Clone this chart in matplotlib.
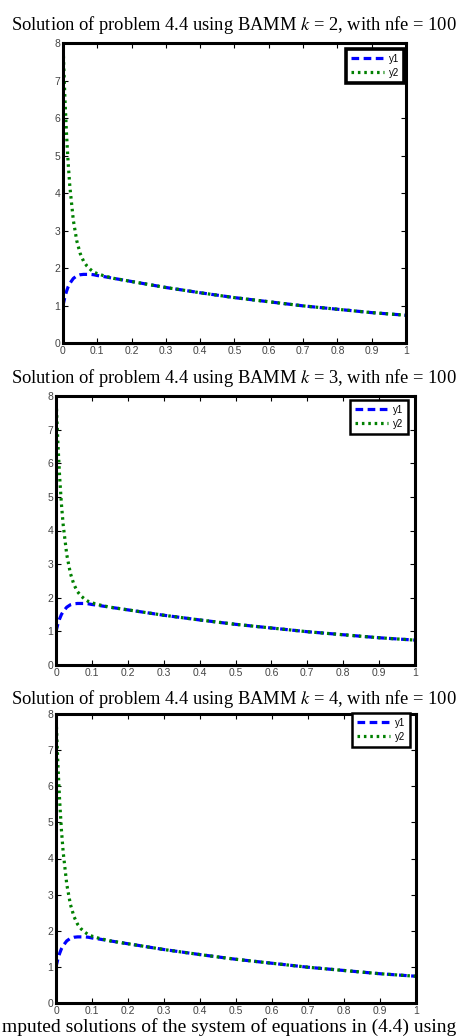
import matplotlib
matplotlib.use("Agg")
import matplotlib.pyplot as plt

# -----------------------------
# Data
# -----------------------------
x = [0.0, 0.005, 0.01, 0.015, 0.02, 0.03, 0.04, 0.05, 0.06, 0.07, 0.08, 0.09,
     0.1, 0.12, 0.15, 0.2, 0.25, 0.3, 0.4, 0.5, 0.6, 0.7, 0.8, 0.9, 1.0]
y1 = [1.0, 1.21, 1.37, 1.50, 1.59, 1.72, 1.79, 1.82, 1.83, 1.83, 1.83, 1.82,
      1.80, 1.77, 1.72, 1.64, 1.56, 1.48, 1.34, 1.21, 1.10, 0.99, 0.90, 0.81, 0.74]
y2 = [8.0, 6.66, 5.62, 4.80, 4.17, 3.28, 2.73, 2.39, 2.18, 2.05, 1.96, 1.89,
      1.85, 1.79, 1.72, 1.64, 1.56, 1.48, 1.34, 1.21, 1.10, 0.99, 0.90, 0.81, 0.74]

k_values = [2, 3, 4]
nfe = 100
x_ticks = [0, 0.1, 0.2, 0.3, 0.4, 0.5, 0.6, 0.7, 0.8, 0.9, 1]
x_tick_labels = ["0", "0.1", "0.2", "0.3", "0.4", "0.5", "0.6", "0.7", "0.8", "0.9", "1"]
y_ticks = [0, 1, 2, 3, 4, 5, 6, 7, 8]
caption = "mputed solutions of the system of equations in (4.4) using"

# -----------------------------
# Layout (pixels: left, right, top, bottom) and legend boxes
# -----------------------------
W, H = 468, 1036
panels = [
    dict(box=(63, 406, 43, 343), title_y=25, leg=(404, 49), leg_lw=2.6),
    dict(box=(56, 415, 396, 665), title_y=378, leg=(408, 400), leg_lw=1.8),
    dict(box=(56, 416, 714, 1003), title_y=699, leg=(410, 713), leg_lw=1.8),
]

plt.rcParams["mathtext.fontset"] = "stix"

fig = plt.figure(figsize=(W / 100, H / 100), dpi=100)

for k, p in zip(k_values, panels):
    l, r, t, b = p["box"]
    ax = fig.add_axes([l / W, 1 - b / H, (r - l) / W, (b - t) / H])
    ax.plot(x, y1, color="#0000ff", ls=(0, (2.4, 1.4)), lw=2.3, label="y1")
    ax.plot(x, y2, color="#008000", ls=(0, (0.8, 1.2)), lw=2.3, label="y2")
    ax.set_xlim(0, 1)
    ax.set_ylim(0, 8)
    ax.set_xticks(x_ticks)
    ax.set_xticklabels(x_tick_labels)
    ax.set_yticks(y_ticks)
    ax.tick_params(direction="in", top=True, right=True, length=3.5, width=0.8,
                   labelsize=7.5, labelcolor="#444444", pad=2)
    for lab in ax.get_xticklabels() + ax.get_yticklabels():
        lab.set_family("Liberation Sans")
    for s in ax.spines.values():
        s.set_linewidth(2.2)
    lx, ly = p["leg"]
    leg = ax.legend(loc="upper right",
                    bbox_to_anchor=((lx - l) / (r - l), (b - ly) / (b - t)),
                    prop={"family": "Liberation Sans", "size": 7},
                    handlelength=3.4, handletextpad=0.5, borderpad=0.5,
                    labelspacing=0.4, fancybox=False, framealpha=1,
                    borderaxespad=0)
    leg.get_frame().set_edgecolor("black")
    leg.get_frame().set_linewidth(p["leg_lw"])
    fig.text(0.5, 1 - p["title_y"] / H,
             f"Solution of problem 4.4 using BAMM $k$ = {k}, with nfe = {nfe}",
             ha="center", va="center", family="Liberation Serif", fontsize=13.3)

fig.text(2 / W, 1 - 1032 / H, caption, ha="left", va="baseline",
         family="Liberation Serif", fontsize=14)

fig.savefig("out.png", dpi=100)
